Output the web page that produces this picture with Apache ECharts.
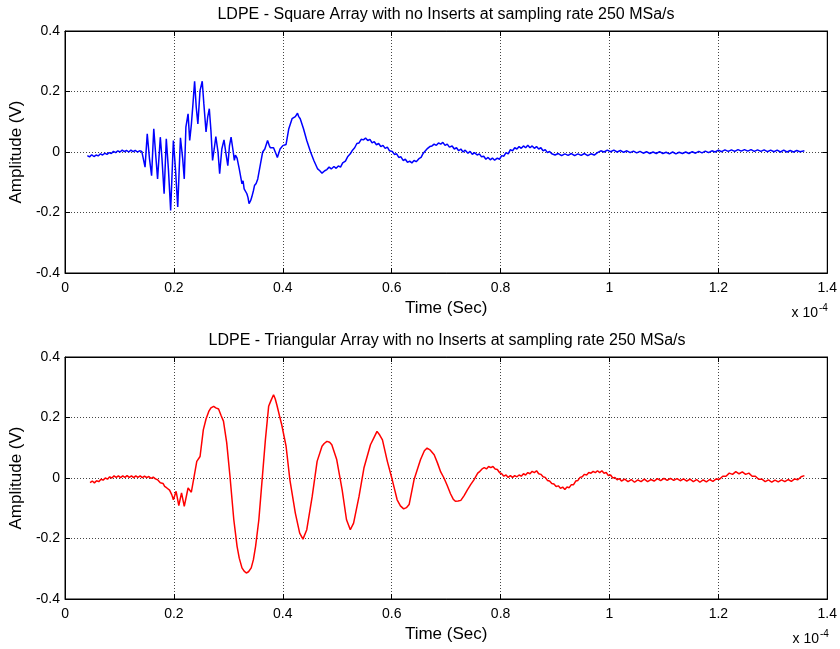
<!DOCTYPE html>
<html>
<head>
<meta charset="utf-8">
<script src="https://cdn.jsdelivr.net/npm/echarts@6/dist/echarts.min.js"></script>
<style>
html,body{margin:0;padding:0;background:#fff;}
#chart{width:840px;height:649px;}
</style>
</head>
<body>
<div id="chart"></div>
<script>
// [time (x1e-4 s), amplitude (V)], split in segments
var squareOnset = [[0.041,-0.012],[0.045,-0.016],[0.049,-0.009],[0.053,-0.015],[0.057,-0.010],[0.061,-0.013],[0.065,-0.006],[0.069,-0.010],[0.073,-0.004],[0.077,-0.008],[0.081,-0.002],[0.085,-0.005],[0.089,0.002],[0.093,-0.002],[0.097,0.004],[0.101,0.000],[0.105,0.006],[0.109,0.001],[0.113,0.005],[0.117,0.000],[0.121,0.006],[0.125,0.001],[0.129,0.005],[0.133,0.000],[0.137,0.004],[0.141,0.002]];
var squareBurst = [[0.147,-0.05],[0.151,0.06],[0.155,-0.02],[0.159,-0.078],[0.163,0.077],[0.167,-0.02],[0.170,-0.089],[0.175,0.049],[0.178,-0.02],[0.182,-0.138],[0.186,0.044],[0.190,-0.06],[0.194,-0.193],[0.199,0.038],[0.203,-0.06],[0.207,-0.182],[0.212,0.047],[0.216,-0.02],[0.219,-0.089],[0.222,0.082],[0.226,0.126],[0.229,0.038],[0.232,0.09],[0.235,0.159],[0.238,0.234],[0.241,0.148],[0.244,0.093],[0.248,0.203],[0.252,0.234],[0.255,0.159],[0.259,0.066],[0.262,0.115],[0.265,0.143],[0.268,0.071],[0.271,-0.028],[0.274,0.01],[0.277,0.051],[0.281,0.0],[0.284,-0.072],[0.288,0.01],[0.292,0.040],[0.296,-0.01],[0.299,-0.045],[0.302,0.02],[0.305,0.049],[0.309,0.0],[0.311,-0.028],[0.313,-0.01],[0.316,-0.02],[0.320,-0.056],[0.325,-0.105],[0.327,-0.095],[0.329,-0.122],[0.332,-0.118],[0.334,-0.138],[0.336,-0.15],[0.338,-0.171],[0.341,-0.16],[0.343,-0.149],[0.346,-0.128],[0.348,-0.111],[0.351,-0.104],[0.354,-0.089],[0.359,-0.039],[0.363,0.0],[0.367,0.01],[0.372,0.038],[0.375,0.022],[0.377,0.014],[0.380,0.020],[0.383,0.014],[0.388,-0.008],[0.390,-0.018],[0.392,-0.023],[0.395,0.01],[0.400,0.021],[0.403,0.018],[0.406,0.025],[0.411,0.077],[0.417,0.11],[0.420,0.108],[0.423,0.117],[0.425,0.114],[0.427,0.128],[0.429,0.118],[0.432,0.11],[0.438,0.077],[0.444,0.038],[0.451,0.0],[0.457,-0.028],[0.464,-0.056],[0.468,-0.062],[0.472,-0.070]];
var squareTail = [[0.477,-0.062],[0.481,-0.058],[0.485,-0.050],[0.489,-0.056],[0.494,-0.048],[0.498,-0.054],[0.502,-0.046],[0.506,-0.050],[0.510,-0.036],[0.515,-0.030],[0.519,-0.016],[0.524,-0.006],[0.528,0.006],[0.532,0.014],[0.536,0.028],[0.540,0.030],[0.544,0.042],[0.548,0.040],[0.552,0.046],[0.556,0.038],[0.560,0.042],[0.564,0.030],[0.568,0.034],[0.572,0.024],[0.576,0.028],[0.580,0.018],[0.584,0.022],[0.588,0.012],[0.592,0.016],[0.596,0.004],[0.601,0.002],[0.605,-0.008],[0.609,-0.006],[0.613,-0.018],[0.617,-0.016],[0.621,-0.028],[0.625,-0.024],[0.629,-0.034],[0.633,-0.030],[0.637,-0.036],[0.641,-0.028],[0.645,-0.032],[0.650,-0.022],[0.654,-0.018],[0.658,-0.004],[0.662,0.004],[0.666,0.012],[0.670,0.018],[0.674,0.020],[0.678,0.026],[0.682,0.022],[0.686,0.030],[0.690,0.026],[0.694,0.032],[0.698,0.022],[0.702,0.026],[0.706,0.016],[0.711,0.020],[0.715,0.010],[0.719,0.014],[0.723,0.004],[0.727,0.010],[0.731,0.000],[0.735,0.006],[0.740,-0.004],[0.744,0.002],[0.748,-0.008],[0.752,-0.002],[0.757,-0.010],[0.761,-0.006],[0.765,-0.016],[0.769,-0.014],[0.773,-0.024],[0.777,-0.018],[0.781,-0.026],[0.785,-0.020],[0.789,-0.027],[0.794,-0.020],[0.798,-0.024],[0.802,-0.012],[0.806,-0.014],[0.810,-0.002],[0.814,-0.006],[0.818,0.008],[0.822,0.004],[0.826,0.014],[0.830,0.010],[0.834,0.018],[0.838,0.012],[0.842,0.020],[0.846,0.014],[0.850,0.022],[0.854,0.014],[0.858,0.020],[0.862,0.012],[0.866,0.018],[0.870,0.010],[0.874,0.014],[0.878,0.004],[0.882,0.008],[0.886,-0.002],[0.890,0.002],[0.894,-0.006],[0.900,-0.010],[0.906,-0.005],[0.912,-0.012],[0.918,-0.006],[0.924,-0.011],[0.930,-0.005],[0.936,-0.012],[0.942,-0.006],[0.948,-0.011],[0.954,-0.005],[0.960,-0.012],[0.966,-0.006],[0.972,-0.010],[0.978,-0.002],[0.984,0.004],[0.990,0.000],[0.996,0.006],[1.002,0.001],[1.008,0.006],[1.014,0.000],[1.020,0.005],[1.026,-0.001],[1.032,0.004],[1.038,-0.002],[1.044,0.003],[1.050,-0.003],[1.056,0.002],[1.062,-0.004],[1.068,0.001],[1.074,-0.005],[1.080,0.000],[1.086,-0.005],[1.092,0.001],[1.098,-0.005],[1.104,-0.001],[1.110,-0.006],[1.116,0.000],[1.122,-0.006],[1.128,-0.001],[1.134,-0.005],[1.140,0.000],[1.146,-0.005],[1.152,0.001],[1.158,-0.004],[1.164,0.002],[1.170,-0.003],[1.176,0.003],[1.182,-0.002],[1.188,0.004],[1.194,0.000],[1.200,0.006],[1.206,0.001],[1.212,0.007],[1.218,0.002],[1.224,0.007],[1.230,0.002],[1.236,0.008],[1.242,0.003],[1.248,0.008],[1.254,0.003],[1.260,0.008],[1.266,0.002],[1.272,0.007],[1.278,0.002],[1.284,0.007],[1.290,0.001],[1.296,0.006],[1.302,0.001],[1.308,0.006],[1.314,0.000],[1.320,0.006],[1.326,0.000],[1.332,0.005],[1.338,0.000],[1.344,0.005],[1.350,0.001],[1.358,0.004]];

var triOnset = [[0.046,-0.015],[0.050,-0.010],[0.054,-0.016],[0.058,-0.009],[0.062,-0.012],[0.066,-0.004],[0.070,-0.007],[0.074,0.000],[0.078,-0.004],[0.082,0.004],[0.086,0.000],[0.090,0.007],[0.094,0.002],[0.098,0.007],[0.102,0.001],[0.106,0.007],[0.110,0.002],[0.114,0.008],[0.118,0.002],[0.122,0.007],[0.126,0.001],[0.130,0.007],[0.134,0.002],[0.138,0.007],[0.142,0.001],[0.146,0.006],[0.150,0.001],[0.154,0.005],[0.158,-0.001],[0.162,0.003],[0.166,-0.003],[0.170,-0.006],[0.175,-0.016],[0.180,-0.018],[0.183,-0.028],[0.187,-0.033],[0.192,-0.040],[0.196,-0.055],[0.199,-0.072],[0.204,-0.044],[0.209,-0.091],[0.214,-0.049],[0.219,-0.094],[0.226,-0.033],[0.232,-0.047],[0.236,-0.006]];
var triWaves = [[0.242,0.055],[0.248,0.071],[0.254,0.159],[0.259,0.195],[0.264,0.220],[0.268,0.232],[0.273,0.237],[0.277,0.232],[0.282,0.228],[0.287,0.205],[0.291,0.188],[0.297,0.116],[0.303,0.005],[0.310,-0.138],[0.316,-0.226],[0.320,-0.265],[0.325,-0.297],[0.329,-0.308],[0.333,-0.314],[0.337,-0.310],[0.342,-0.297],[0.346,-0.270],[0.350,-0.226],[0.356,-0.138],[0.362,-0.006],[0.368,0.126],[0.374,0.237],[0.378,0.255],[0.383,0.275],[0.386,0.262],[0.389,0.242],[0.394,0.205],[0.398,0.176],[0.406,0.105],[0.413,-0.006],[0.423,-0.116],[0.431,-0.182],[0.437,-0.202],[0.444,-0.171],[0.454,-0.061],[0.463,0.055],[0.472,0.105],[0.476,0.114],[0.481,0.121],[0.486,0.118],[0.490,0.110],[0.499,0.061],[0.509,-0.039],[0.517,-0.138],[0.524,-0.171],[0.530,-0.149],[0.540,-0.061],[0.549,0.033],[0.561,0.110],[0.567,0.132],[0.573,0.154],[0.578,0.142],[0.583,0.126],[0.592,0.055],[0.601,-0.006],[0.610,-0.072],[0.616,-0.092],[0.622,-0.102],[0.627,-0.098],[0.632,-0.088],[0.641,-0.006],[0.653,0.061],[0.660,0.090],[0.665,0.099],[0.671,0.092],[0.678,0.077],[0.684,0.050],[0.690,0.020],[0.696,0.000],[0.702,-0.025],[0.708,-0.052],[0.713,-0.070],[0.717,-0.077],[0.722,-0.076],[0.727,-0.074],[0.733,-0.058],[0.739,-0.039],[0.745,-0.022],[0.751,-0.006],[0.758,0.016],[0.762,0.022]];
var triTail = [[0.766,0.030],[0.770,0.034],[0.774,0.030],[0.778,0.038],[0.782,0.034],[0.786,0.038],[0.790,0.030],[0.794,0.028],[0.798,0.018],[0.802,0.014],[0.806,0.006],[0.810,0.010],[0.814,0.002],[0.818,0.008],[0.822,0.002],[0.826,0.008],[0.830,0.004],[0.834,0.010],[0.838,0.006],[0.842,0.014],[0.846,0.010],[0.850,0.018],[0.854,0.014],[0.858,0.022],[0.862,0.018],[0.866,0.024],[0.870,0.014],[0.874,0.012],[0.878,0.004],[0.882,0.002],[0.886,-0.008],[0.890,-0.010],[0.894,-0.018],[0.898,-0.020],[0.902,-0.028],[0.906,-0.026],[0.910,-0.034],[0.914,-0.030],[0.918,-0.038],[0.922,-0.030],[0.926,-0.032],[0.930,-0.022],[0.934,-0.022],[0.938,-0.010],[0.942,-0.008],[0.946,0.002],[0.950,0.004],[0.954,0.012],[0.958,0.010],[0.962,0.018],[0.966,0.016],[0.970,0.022],[0.974,0.018],[0.978,0.024],[0.982,0.018],[0.986,0.024],[0.990,0.016],[0.994,0.018],[0.998,0.008],[1.002,0.010],[1.006,0.000],[1.010,0.002],[1.014,-0.006],[1.018,-0.002],[1.022,-0.010],[1.028,-0.004],[1.034,-0.012],[1.040,-0.005],[1.046,-0.014],[1.052,-0.006],[1.058,-0.012],[1.064,-0.004],[1.070,-0.012],[1.076,-0.005],[1.082,-0.010],[1.088,-0.002],[1.094,-0.009],[1.100,-0.001],[1.106,-0.008],[1.112,-0.001],[1.118,-0.008],[1.124,-0.002],[1.130,-0.009],[1.136,-0.003],[1.142,-0.010],[1.148,-0.004],[1.154,-0.012],[1.160,-0.005],[1.166,-0.014],[1.172,-0.006],[1.178,-0.013],[1.184,-0.005],[1.190,-0.011],[1.196,-0.003],[1.202,-0.004],[1.208,0.006],[1.214,0.006],[1.220,0.016],[1.226,0.012],[1.232,0.021],[1.238,0.014],[1.244,0.020],[1.250,0.012],[1.256,0.016],[1.262,0.006],[1.268,0.006],[1.274,-0.004],[1.280,-0.004],[1.286,-0.012],[1.292,-0.006],[1.298,-0.014],[1.304,-0.007],[1.310,-0.013],[1.316,-0.006],[1.322,-0.012],[1.328,-0.005],[1.334,-0.011],[1.340,-0.003],[1.346,-0.006],[1.352,0.004],[1.358,0.008]];

var titles = ['LDPE - Square Array with no Inserts at sampling rate 250 MSa/s',
              'LDPE - Triangular Array with no Inserts at sampling rate 250 MSa/s'];
var xLabel = 'Time (Sec)';
var yLabel = 'Amplitude (V)';
var xTicks = {min: 0, max: 1.4, step: 0.2};
var yTicks = {min: -0.4, max: 0.4, step: 0.2};

var squareSignal = squareOnset.concat(squareBurst, squareTail);
var triSignal = triOnset.concat(triWaves, triTail);

var FONT = 'Liberation Sans, Arial, sans-serif';
var grids = [
  {left: 64, top: 31, width: 764, height: 242},
  {left: 65, top: 357, width: 764, height: 242}
];

var xAxes = [], yAxes = [];
grids.forEach(function (g, i) {
  xAxes.push({
    type: 'value', gridIndex: i, min: xTicks.min, max: xTicks.max, interval: xTicks.step, position: 'bottom',
    name: xLabel, nameLocation: 'middle', nameGap: 27,
    nameTextStyle: {fontFamily: FONT, fontSize: 17, color: '#000'},
    axisLine: {show: true, onZero: false, lineStyle: {color: '#000', width: 1}},
    axisTick: {show: true, inside: true, length: 5, lineStyle: {color: '#000'}},
    axisLabel: {fontFamily: FONT, fontSize: 14, color: '#000', margin: 8},
    splitLine: {show: true, lineStyle: {color: '#444', type: [1, 2], width: 1}}
  });
  xAxes.push({
    type: 'value', gridIndex: i, min: xTicks.min, max: xTicks.max, interval: xTicks.step, position: 'top',
    axisLine: {show: true, onZero: false, lineStyle: {color: '#000', width: 1}},
    axisTick: {show: true, inside: true, length: 5, lineStyle: {color: '#000'}},
    axisLabel: {show: false}, splitLine: {show: false}
  });
  yAxes.push({
    type: 'value', gridIndex: i, min: yTicks.min, max: yTicks.max, interval: yTicks.step, position: 'left',
    name: yLabel, nameLocation: 'middle', nameGap: 37, nameRotate: 90,
    nameTextStyle: {fontFamily: FONT, fontSize: 17, color: '#000'},
    axisLine: {show: true, onZero: false, lineStyle: {color: '#000', width: 1}},
    axisTick: {show: true, inside: true, length: 5, lineStyle: {color: '#000'}},
    axisLabel: {fontFamily: FONT, fontSize: 14, color: '#000', margin: 5},
    splitLine: {show: true, lineStyle: {color: '#444', type: [1, 2], width: 1}}
  });
  yAxes.push({
    type: 'value', gridIndex: i, min: yTicks.min, max: yTicks.max, interval: yTicks.step, position: 'right',
    axisLine: {show: true, onZero: false, lineStyle: {color: '#000', width: 1}},
    axisTick: {show: true, inside: true, length: 5, lineStyle: {color: '#000'}},
    axisLabel: {show: false}, splitLine: {show: false}
  });
});

var graphics = [];
grids.forEach(function (g, i) {
  graphics.push({
    type: 'text', x: g.left + g.width / 2, y: g.top - 16,
    style: {text: titles[i], font: '16px ' + FONT, fill: '#000', textAlign: 'center', textVerticalAlign: 'middle'}
  });
  graphics.push({
    type: 'text', x: g.left + g.width - 10, y: g.top + g.height + 40,
    style: {text: 'x 10', font: '14px ' + FONT, fill: '#000', textAlign: 'right', textVerticalAlign: 'middle'}
  });
  graphics.push({
    type: 'text', x: g.left + g.width - 9, y: g.top + g.height + 35,
    style: {text: '-4', font: '10px ' + FONT, fill: '#000', textAlign: 'left', textVerticalAlign: 'middle'}
  });
});

var chart = echarts.init(document.getElementById('chart'), null, {renderer: 'canvas'});
chart.setOption({
  animation: false,
  backgroundColor: '#fff',
  grid: grids.map(function (g) {
    return {left: g.left, top: g.top, width: g.width, height: g.height, show: true,
            backgroundColor: '#fff', borderColor: '#000', borderWidth: 1};
  }),
  xAxis: xAxes,
  yAxis: yAxes,
  series: [
    {type: 'line', xAxisIndex: 0, yAxisIndex: 0, data: squareSignal,
     showSymbol: false, lineStyle: {color: '#0000ff', width: 1.5}, z: 3},
    {type: 'line', xAxisIndex: 2, yAxisIndex: 2, data: triSignal,
     showSymbol: false, lineStyle: {color: '#ff0000', width: 1.5}, z: 3}
  ],
  graphic: graphics
});
</script>
</body>
</html>
